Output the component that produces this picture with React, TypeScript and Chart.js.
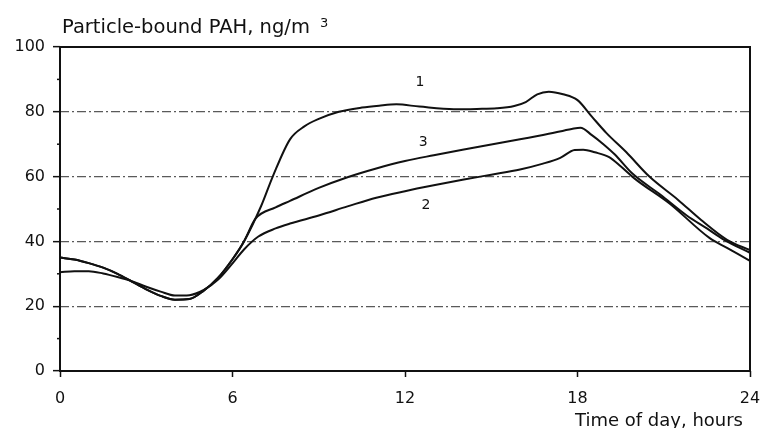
import React, { useEffect, useRef } from "react";
import { Chart, registerables } from "chart.js";

Chart.register(...registerables);

// ---- data ----
const hours1 = [0, 0.5, 1, 1.5, 2, 2.5, 3, 3.5, 4, 4.5, 5, 5.5, 6, 6.4, 7, 7.4, 8, 8.5, 9, 9.7, 10.5, 11.1, 11.7, 12.5, 13.7, 14.5, 15.2, 15.8, 16.2, 16.6, 17, 17.5, 18, 18.5, 19, 19.7, 20.5, 21.5, 22.3, 23.2, 24];
const pah1 = [35, 34.4, 33.3, 31.9, 30, 27.6, 25.2, 23.2, 22, 22.2, 24.8, 28.8, 34.5, 40, 51, 60, 71.5, 75.5, 77.8, 80, 81.3, 81.9, 82.3, 81.6, 80.8, 80.9, 81.1, 81.8, 83, 85.4, 86.2, 85.4, 83.6, 78.5, 73.5, 67.5, 60, 52.8, 46.6, 40.5, 37.3];

const hours2 = [0, 0.5, 1, 1.5, 2, 2.5, 3, 3.5, 4, 4.5, 5, 5.5, 6, 6.4, 6.9, 7.5, 8, 9, 10, 11, 12, 13, 14, 15, 16, 16.8, 17.4, 17.9, 18.2, 18.6, 19.1, 19.5, 20, 21.2, 22.6, 23.2, 24];
const pah2 = [30.5, 30.8, 30.8, 30.1, 29, 27.7, 26, 24.5, 23.3, 23.4, 25, 28.2, 33.2, 37.5, 41.5, 44, 45.5, 48, 50.8, 53.5, 55.5, 57.3, 59, 60.6, 62.2, 64, 65.8, 68.2, 68.3, 67.5, 66, 63.2, 59.3, 51.7, 41, 38, 34];

const hours3 = [0, 0.5, 1, 1.5, 2, 2.5, 3, 3.5, 4, 4.5, 5, 5.5, 6, 6.4, 6.8, 7.5, 8, 9, 10, 11, 12, 13, 14, 15, 16, 17, 17.8, 18.1, 18.5, 18.9, 19.3, 19.9, 20.9, 21.8, 22.5, 23.1, 24];
const pah3 = [35, 34.4, 33.3, 31.9, 30, 27.6, 25.2, 23.2, 22, 22.2, 24.8, 28.8, 34.5, 40, 47, 50.5, 52.5, 56.5, 59.8, 62.5, 64.8, 66.6, 68.3, 69.9, 71.5, 73.2, 74.7, 75.1, 72.8, 70, 66.8, 61, 54.3, 48, 44, 40.5, 36.5];

const curveNames = ["1", "2", "3"];
const curveLabelHours = [12.52, 12.73, 12.63];
const curveLabelValues = [89.2, 51.2, 70.5];

const yMajorTicks = [0, 20, 40, 60, 80, 100];
const yMinorTicks = [10, 30, 50, 70, 90];
const xTicks = [0, 6, 12, 18, 24];

const titleText = "Particle-bound PAH, ng/m";
const titleSup = "3";
const xAxisTitle = "Time of day, hours";

const FONT = "'DejaVu Sans', 'Liberation Sans', Arial, sans-serif";

const toPoints = (xs: number[], ys: number[]) => xs.map((x, i) => ({ x, y: ys[i] }));

const decorPlugin = {
  id: "decor",
  afterDatasetsDraw(chart: any) {
    const { ctx, chartArea } = chart;
    const xs = chart.scales.x;
    const ys = chart.scales.y;
    ctx.save();
    // frame
    ctx.strokeStyle = "#111";
    ctx.lineWidth = 2;
    ctx.setLineDash([]);
    ctx.beginPath();
    ctx.rect(chartArea.left, chartArea.top, chartArea.right - chartArea.left, chartArea.bottom - chartArea.top);
    ctx.stroke();
    // minor y ticks
    ctx.lineWidth = 1.5;
    yMinorTicks.forEach((v) => {
      const py = ys.getPixelForValue(v);
      ctx.beginPath();
      ctx.moveTo(chartArea.left - 3, py);
      ctx.lineTo(chartArea.left, py);
      ctx.stroke();
    });
    // title
    ctx.fillStyle = "#111";
    ctx.textBaseline = "alphabetic";
    ctx.textAlign = "left";
    ctx.font = `19.5px ${FONT}`;
    ctx.fillText(titleText, 62, 33);
    const w = ctx.measureText(titleText).width;
    ctx.font = `13px ${FONT}`;
    ctx.fillText(titleSup, 62 + w + 10, 27);
    // x axis title
    ctx.font = `18px ${FONT}`;
    ctx.textAlign = "right";
    ctx.fillText(xAxisTitle, 743, 426);
    // curve labels
    ctx.font = `14px ${FONT}`;
    ctx.textAlign = "center";
    ctx.textBaseline = "middle";
    curveNames.forEach((n, i) => {
      ctx.fillText(n, xs.getPixelForValue(curveLabelHours[i]), ys.getPixelForValue(curveLabelValues[i]));
    });
    ctx.restore();
  },
};

export default function App() {
  const ref = useRef<HTMLCanvasElement | null>(null);
  useEffect(() => {
    const canvas = ref.current;
    if (!canvas) return;
    const lineDs = (data: any) => ({
      data,
      borderColor: "#111",
      borderWidth: 2,
      pointRadius: 0,
      fill: false,
      cubicInterpolationMode: "monotone" as const,
    });
    const chart = new Chart(canvas, {
      type: "line",
      data: {
        datasets: [
          { label: "1", ...lineDs(toPoints(hours1, pah1)) },
          { label: "2", ...lineDs(toPoints(hours2, pah2)) },
          { label: "3", ...lineDs(toPoints(hours3, pah3)) },
        ],
      },
      options: {
        responsive: false,
        animation: false,
        devicePixelRatio: 1,
        layout: { padding: { top: 47, right: 13, left: 0, bottom: 0 } },
        plugins: { legend: { display: false }, tooltip: { enabled: false } },
        scales: {
          x: {
            type: "linear",
            min: 0,
            max: 24,
            afterBuildTicks: (s: any) => {
              s.ticks = xTicks.map((v) => ({ value: v }));
            },
            afterFit: (s: any) => {
              s.height = 57;
              s.paddingLeft = 0;
              s.paddingRight = 0;
            },
            border: { display: false },
            grid: {
              drawOnChartArea: false,
              tickLength: 6,
              tickColor: "#111",
              tickWidth: 1.5,
            },
            ticks: {
              color: "#111",
              font: { family: FONT, size: 16 },
              padding: 12,
              maxRotation: 0,
            },
          },
          y: {
            type: "linear",
            min: 0,
            max: 100,
            afterBuildTicks: (s: any) => {
              s.ticks = yMajorTicks.map((v) => ({ value: v }));
            },
            afterFit: (s: any) => {
              s.width = 60;
              s.paddingTop = 0;
              s.paddingBottom = 0;
            },
            border: { display: false, dash: [9, 3, 2, 3] },
            grid: {
              color: (c: any) => {
                const v = c.tick ? c.tick.value : 0;
                return v > 0 && v < 100 ? "#5a5a5a" : "rgba(0,0,0,0)";
              },
              lineWidth: 1.3,
              tickLength: 7,
              tickColor: "#111",
              tickWidth: 1.5,
            },
            ticks: {
              color: "#111",
              font: { family: FONT, size: 16 },
              padding: 8,
            },
          },
        },
      },
      plugins: [decorPlugin],
    });
    return () => chart.destroy();
  }, []);
  return (
    <canvas
      ref={ref}
      width={763}
      height={428}
      style={{ position: "absolute", left: 0, top: 0, width: 763, height: 428, background: "#fff" }}
    />
  );
}
